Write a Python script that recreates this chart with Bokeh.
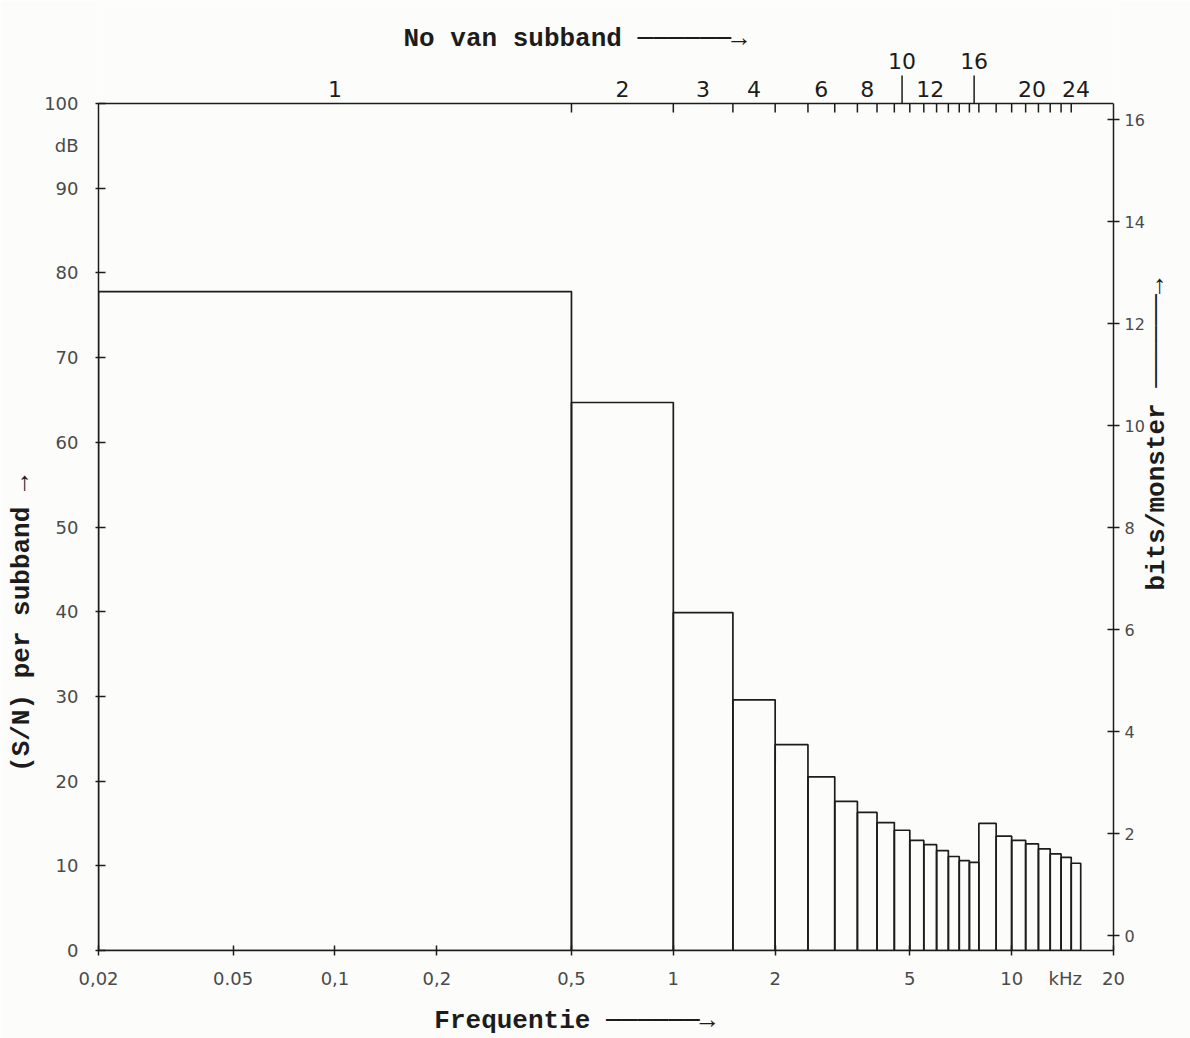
import numpy as np
from bokeh.plotting import figure
from bokeh.models import LinearAxis, FixedTicker, Range1d, ColumnDataSource
from bokeh.core.properties import value
from bokeh.embed import file_html
from bokeh.resources import INLINE

# ---- data -------------------------------------------------------------
band_edges_khz = [0.02, 0.5, 1.0, 1.5, 2.0, 2.5, 3.0, 3.5, 4.0, 4.5, 5.0, 5.5, 6.0,
                  6.5, 7.0, 7.5, 8.0, 9.0, 10.0, 11.0, 12.0, 13.0, 14.0, 15.0, 16.0]
snr_db = [77.8, 64.7, 39.9, 29.6, 24.3, 20.5, 17.6, 16.3, 15.1, 14.2, 13.0, 12.5,
          11.8, 11.1, 10.6, 10.4, 15.0, 13.5, 13.0, 12.6, 12.0, 11.4, 11.0, 10.3]
freq_ticks = [0.02, 0.05, 0.1, 0.2, 0.5, 1, 2, 5, 10, 20]
freq_labels = ["0,02", "0.05", "0,1", "0,2", "0,5", "1", "2", "5", "10", "20"]
freq_unit_pos, freq_unit = 14.4, "kHz"
db_ticks = [0, 10, 20, 30, 40, 50, 60, 70, 80, 90, 100]
db_unit_pos, db_unit = 95, "dB"
bits_ticks = [0, 2, 4, 6, 8, 10, 12, 14, 16]
bits_title_pos_db, bits_title = 42.5, "bits/monster ──────→"
subband_labels = [1, 2, 3, 4, 6, 8, 12, 20, 24]
subband_labels_high = [10, 16]

BG = "#fcfcfa"
INK = "#1c1c1c"
GREY = "#4a4a4a"
MONO = "Liberation Mono"
SANS = "DejaVu Sans"
NB = "\u00a0"

def db_to_bits(d):
    return (d - 1.76) / 6.02

lo = np.array(band_edges_khz[:-1])
hi = np.array(band_edges_khz[1:])
centers = np.sqrt(lo * hi)

PX_PER_DB = 8.47          # frame pixels per dB
Y_TOP = 950 / PX_PER_DB   # frame reaches the top of the canvas

p = figure(width=1190, height=1038, x_axis_type="log",
           x_range=Range1d(0.02, 20), y_range=Range1d(0, Y_TOP),
           output_backend="svg", toolbar_location=None,
           min_border_left=98, min_border_right=77,
           min_border_top=0, min_border_bottom=88,
           background_fill_color=BG, border_fill_color=BG)
p.grid.visible = False
p.outline_line_color = None
p.extra_y_ranges = {"bits": Range1d(db_to_bits(0), db_to_bits(Y_TOP))}

# bars
src = ColumnDataSource(dict(left=lo, right=hi, top=snr_db))
p.quad(left="left", right="right", bottom=0, top="top", source=src,
       fill_color=None, line_color=INK, line_width=1.7)

# top edge of the box and subband boundary ticks
p.segment(x0=[0.02], y0=[100], x1=[20], y1=[100], line_color=INK, line_width=1.5)
p.segment(x0=hi[:-1], y0=100, x1=hi[:-1], y1=100 - 9 / PX_PER_DB,
          line_color=INK, line_width=1.5)
hc = [centers[n - 1] for n in subband_labels_high]
p.segment(x0=hc, y0=100, x1=hc, y1=100 + 28 / PX_PER_DB,
          line_color=INK, line_width=1.5)

p.text(x=[centers[n - 1] for n in subband_labels], y=100 + 15 / PX_PER_DB,
       text=[str(n) for n in subband_labels],
       text_align="center", text_baseline="middle",
       text_font=value(SANS), text_font_size="22px", text_color=INK)
p.text(x=hc, y=100 + 43 / PX_PER_DB, text=[str(n) for n in subband_labels_high],
       text_align="center", text_baseline="middle",
       text_font=value(SANS), text_font_size="22px", text_color=INK)
p.text(x=[0.1594], y=[100 + 65 / PX_PER_DB], text=["No van subband ──────→"],
       text_align="left", text_baseline="middle",
       text_font=value(MONO), text_font_style="bold", text_font_size="26px",
       text_color=INK)

# bottom axis
xa = p.xaxis[0]
xa.ticker = FixedTicker(ticks=freq_ticks + [freq_unit_pos], minor_ticks=freq_ticks)
xa.major_label_overrides = {**{t: l for t, l in zip(freq_ticks, freq_labels)},
                            freq_unit_pos: freq_unit}
xa.major_tick_in = 0
xa.major_tick_out = 0
xa.minor_tick_in = 5
xa.minor_tick_out = 5
xa.minor_tick_line_color = INK
xa.minor_tick_line_width = 1.5
xa.axis_line_color = INK
xa.axis_line_width = 1.5
xa.major_label_text_font = SANS
xa.major_label_text_font_size = "18px"
xa.major_label_text_color = GREY
xa.major_label_standoff = 12
xa.axis_label = "Frequentie ──────→" + NB * 4
xa.axis_label_text_font = MONO
xa.axis_label_text_font_style = "bold"
xa.axis_label_text_font_size = "26px"
xa.axis_label_text_color = INK
xa.axis_label_standoff = 14

# left axis
ya = p.yaxis[0]
ya.bounds = (0, 100)
ya.ticker = FixedTicker(ticks=db_ticks + [db_unit_pos], minor_ticks=db_ticks)
ya.major_label_overrides = {db_unit_pos: db_unit}
ya.major_tick_in = 0
ya.major_tick_out = 0
ya.minor_tick_in = 7
ya.minor_tick_out = 3
ya.minor_tick_line_color = INK
ya.minor_tick_line_width = 1.5
ya.axis_line_color = INK
ya.axis_line_width = 1.5
ya.major_label_text_font = SANS
ya.major_label_text_font_size = "18px"
ya.major_label_text_color = GREY
ya.major_label_standoff = 17
ya.axis_label = "(S/N) per subband →" + NB * 19
ya.axis_label_text_font = MONO
ya.axis_label_text_font_style = "bold"
ya.axis_label_text_font_size = "26px"
ya.axis_label_text_color = INK
ya.axis_label_standoff = 4

# right axis (bits per sample)
ra = LinearAxis(y_range_name="bits", ticker=FixedTicker(ticks=bits_ticks),
                bounds=(db_to_bits(0), db_to_bits(100)),
                major_tick_in=6, major_tick_out=6,
                axis_line_color=INK, axis_line_width=1.5,
                major_tick_line_color=INK, major_tick_line_width=1.5,
                minor_tick_line_color=None,
                major_label_text_font=SANS, major_label_text_font_size="16px",
                major_label_text_color=GREY, major_label_standoff=5)
p.add_layout(ra, "right")

# right-hand title, placed as a rotated label of an outer axis
rt = LinearAxis(ticker=FixedTicker(ticks=[bits_title_pos_db]),
                major_label_overrides={bits_title_pos_db: bits_title},
                major_tick_in=0, major_tick_out=0, minor_tick_line_color=None,
                major_tick_line_color=None, axis_line_color=None,
                major_label_orientation=np.pi / 2,
                major_label_text_font=MONO, major_label_text_font_style="bold",
                major_label_text_font_size="26px", major_label_text_color=INK,
                major_label_standoff=10)
p.add_layout(rt, "right")

open("out.html", "w").write(file_html(p, INLINE))
